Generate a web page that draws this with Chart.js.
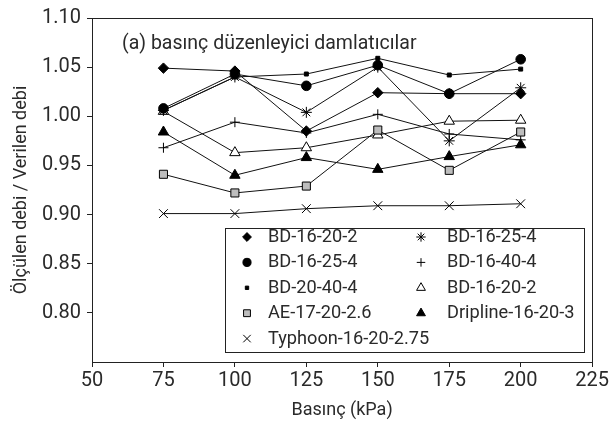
<!DOCTYPE html>
<html>
<head>
<meta charset="utf-8">
<script src="https://cdn.jsdelivr.net/npm/chart.js@4/dist/chart.umd.min.js"></script>
<style>
  html, body { margin: 0; padding: 0; background: #fff; }
  #wrap { width: 611px; height: 426px; position: relative; }
</style>
</head>
<body>
<div id="wrap"><canvas id="c" width="611" height="426"></canvas></div>
<script>
// ---- data ----
const pressures = [75, 100, 125, 150, 175, 200];
const xTicks = [50, 75, 100, 125, 150, 175, 200, 225];
const yTicks = [0.80, 0.85, 0.90, 0.95, 1.00, 1.05, 1.10];

const seriesNames = ['BD-16-20-2', 'BD-16-25-4', 'BD-20-40-4', 'AE-17-20-2.6', 'Typhoon-16-20-2.75',
                     'BD-16-25-4', 'BD-16-40-4', 'BD-16-20-2', 'Dripline-16-20-3'];

const bd162020Diamond = [1.049, 1.046, 0.985, 1.024, 1.023, 1.023];
const bd162540Circle  = [1.008, 1.043, 1.031, 1.052, 1.023, 1.058];
const bd204040Square  = [1.006, 1.040, 1.043, 1.059, 1.042, 1.048];
const ae172026        = [0.941, 0.922, 0.929, 0.986, 0.945, 0.984];
const typhoon         = [0.901, 0.901, 0.906, 0.909, 0.909, 0.911];
const bd162540Star    = [1.006, 1.040, 1.004, 1.050, 0.975, 1.029];
const bd164040Plus    = [0.968, 0.994, 0.983, 1.002, 0.982, 0.976];
const bd162020Tri     = [1.005, 0.963, 0.968, 0.981, 0.995, 0.996];
const dripline        = [0.984, 0.940, 0.958, 0.946, 0.959, 0.971];

const FONT = 'Roboto, "Noto Sans", sans-serif';
const TXT = '#2a2a2a';

function pts(vals) { return pressures.map((p, i) => ({ x: p, y: vals[i] })); }

const styles = [
  { v: bd162020Diamond, ps: 'rectRot', r: 5.2, bg: '#000', bc: '#000' },
  { v: bd162540Circle,  ps: 'circle',  r: 4.8, bg: '#000', bc: '#000' },
  { v: bd204040Square,  ps: 'rect',    r: 2.8, bg: '#000', bc: '#000' },
  { v: ae172026,        ps: 'rect',    r: 5.7, bg: '#bdbdbd', bc: '#000' },
  { v: typhoon,         ps: 'crossRot',r: 6.2, bg: '#000', bc: '#000' },
  { v: bd162540Star,    ps: 'star',    r: 5.5, bg: '#000', bc: '#000' },
  { v: bd164040Plus,    ps: 'cross',   r: 5,   bg: '#000', bc: '#000' },
  { v: bd162020Tri,     ps: 'triangle',r: 6,   bg: '#fff', bc: '#000' },
  { v: dripline,        ps: 'triangle',r: 6,   bg: '#000', bc: '#000' }
];

const datasets = styles.map((s, i) => ({
  label: seriesNames[i],
  data: pts(s.v),
  borderColor: '#111',
  borderWidth: 1,
  pointStyle: s.ps,
  pointRadius: s.r,
  pointHoverRadius: s.r,
  pointBackgroundColor: s.bg,
  pointBorderColor: s.bc,
  pointBorderWidth: 1,
  tension: 0,
  fill: false
}));

const framePlugin = {
  id: 'frame',
  afterDraw(chart) {
    const { ctx, chartArea: a } = chart;
    ctx.save();
    ctx.strokeStyle = '#222';
    ctx.lineWidth = 1;
    ctx.strokeRect(Math.round(a.left) + 0.5, Math.round(a.top) + 0.5,
                   Math.round(a.right - a.left), Math.round(a.bottom - a.top));
    // annotation
    ctx.fillStyle = TXT;
    ctx.font = '19.5px ' + FONT;
    ctx.textBaseline = 'middle';
    ctx.textAlign = 'left';
    ctx.fillText('(a) basınç düzenleyici damlatıcılar', 122, 44);
    ctx.restore();
  }
};

const legendPlugin = {
  id: 'boxLegend',
  afterDraw(chart) {
    const { ctx } = chart;
    const box = { l: 225.5, t: 228.5, r: 584.5, b: 352.5 };
    ctx.save();
    ctx.fillStyle = '#fff';
    ctx.fillRect(box.l, box.t, box.r - box.l, box.b - box.t);
    ctx.strokeStyle = '#222';
    ctx.lineWidth = 1;
    ctx.strokeRect(box.l, box.t, box.r - box.l, box.b - box.t);
    const cols = [{ mx: 247, tx: 268 }, { mx: 421, tx: 447 }];
    const rowY0 = 237, rowH = 25.4;
    chart.data.datasets.forEach((ds, i) => {
      const col = i < 5 ? 0 : 1;
      const row = i < 5 ? i : i - 5;
      const y = rowY0 + row * rowH;
      const c = cols[col];
      ctx.fillStyle = ds.pointBackgroundColor;
      ctx.strokeStyle = ds.pointBorderColor;
      ctx.lineWidth = 1;
      Chart.helpers.drawPoint(ctx, {
        pointStyle: ds.pointStyle,
        radius: ds.pointRadius * 0.85,
        rotation: 0,
        borderWidth: 1
      }, c.mx, y);
      ctx.fillStyle = TXT;
      ctx.font = '18.2px ' + FONT;
      ctx.textBaseline = 'middle';
      ctx.textAlign = 'left';
      ctx.fillText(ds.label, c.tx, y + 0.5);
    });
    ctx.restore();
  }
};

new Chart(document.getElementById('c'), {
  type: 'line',
  data: { datasets },
  options: {
    responsive: false,
    animation: false,
    layout: { padding: { left: 0, right: 17, top: 17, bottom: 0 } },
    plugins: { legend: { display: false }, tooltip: { enabled: false } },
    scales: {
      x: {
        type: 'linear',
        min: 50, max: 225,
        afterFit(s) { s.height = 64; },
        afterBuildTicks(s) { s.ticks = xTicks.map(v => ({ value: v })); },
        ticks: { color: TXT, font: { family: FONT, size: 20 }, padding: 2, maxRotation: 0,
                 callback: v => String(v) },
        grid: { drawOnChartArea: false, drawTicks: true, tickLength: 5, color: '#222' },
        border: { display: true, color: '#222', width: 1 },
        title: { display: true, text: 'Basınç (kPa)', color: TXT,
                 font: { family: FONT, size: 18 }, padding: { top: 0, bottom: 5 } }
      },
      y: {
        type: 'linear',
        min: 0.75, max: 1.10,
        afterFit(s) { s.width = 92; },
        afterBuildTicks(s) { s.ticks = yTicks.map(v => ({ value: v })); },
        ticks: { color: TXT, font: { family: FONT, size: 20 }, padding: 6,
                 callback: v => Number(v).toFixed(2) },
        grid: { drawOnChartArea: false, drawTicks: true, tickLength: 5, color: '#222' },
        border: { display: true, color: '#222', width: 1 },
        title: { display: true, text: 'Ölçülen debi / Verilen debi', color: TXT,
                 font: { family: FONT, size: 18 }, padding: { top: 11, bottom: 0 } }
      }
    }
  },
  plugins: [framePlugin, legendPlugin]
});
</script>
</body>
</html>
